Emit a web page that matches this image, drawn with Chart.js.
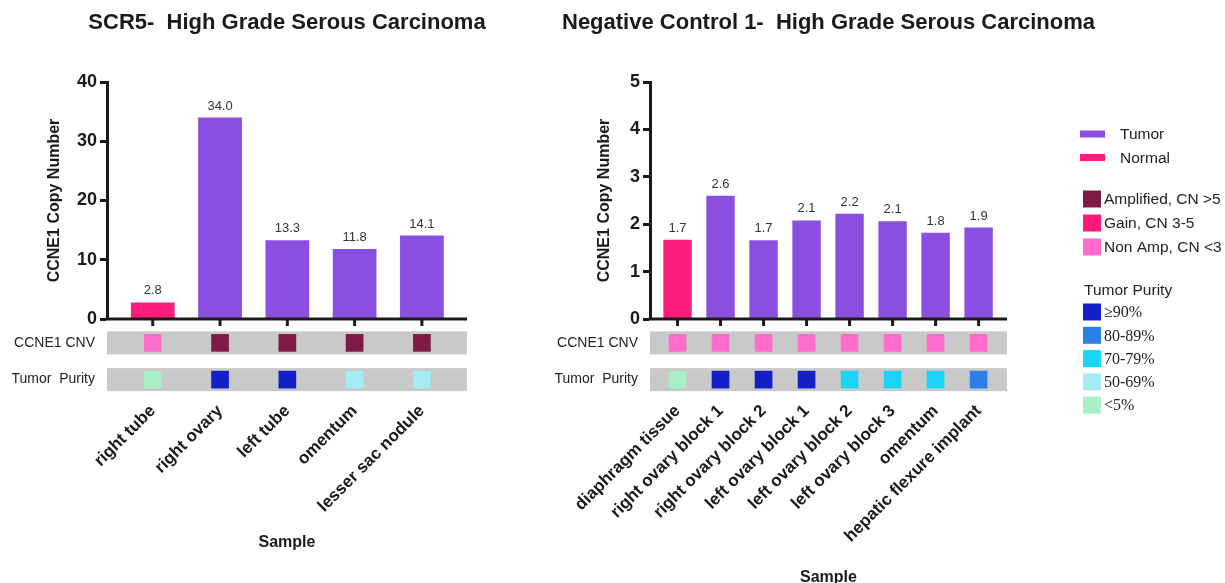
<!DOCTYPE html>
<html>
<head>
<meta charset="utf-8">
<script src="https://cdn.jsdelivr.net/npm/chart.js@4.4.1/dist/chart.umd.min.js"></script>
<style>
  body { margin: 0; background: #fff; width: 1225px; height: 583px; overflow: hidden; position: relative; }
  .panel { position: absolute; top: 0; }
  #leftBox { left: 0; width: 540px; height: 583px; }
  #rightBox { left: 540px; width: 685px; height: 587px; }
</style>
</head>
<body>
<div class="panel" id="leftBox"><canvas id="leftChart"></canvas></div>
<div class="panel" id="rightBox"><canvas id="rightChart"></canvas></div>
<script>
'use strict';

// SCR5 panel
const scrSamples = ['right tube', 'right ovary', 'left tube', 'omentum', 'lesser sac nodule'];
const scrCopyNumber = [2.8, 34.0, 13.3, 11.8, 14.1];
const scrTissue = ['Normal', 'Tumor', 'Tumor', 'Tumor', 'Tumor'];
const scrCnv = ['Non Amp', 'Amplified', 'Amplified', 'Amplified', 'Amplified'];
const scrPurity = ['<5%', '≥90%', '≥90%', '50-69%', '50-69%'];

// Negative control panel
const negSamples = ['diaphragm tissue', 'right ovary block 1', 'right ovary block 2', 'left ovary block 1',
  'left ovary block 2', 'left ovary block 3', 'omentum', 'hepatic flexure implant'];
const negCopyNumber = [1.67, 2.6, 1.66, 2.08, 2.22, 2.06, 1.82, 1.93];
const negTissue = ['Normal', 'Tumor', 'Tumor', 'Tumor', 'Tumor', 'Tumor', 'Tumor', 'Tumor'];
const negCnv = ['Non Amp', 'Non Amp', 'Non Amp', 'Non Amp', 'Non Amp', 'Non Amp', 'Non Amp', 'Non Amp'];
const negPurity = ['<5%', '≥90%', '≥90%', '≥90%', '70-79%', '70-79%', '70-79%', '80-89%'];

const rowLabels = ['CCNE1 CNV', 'Tumor  Purity'];

const tissueLevels = ['Tumor', 'Normal'];
const tissueColors = ['#8a4fe0', '#ff1c7a'];
const cnvLevels = ['Amplified', 'Gain', 'Non Amp'];
const cnvText = ['Amplified, CN >5', 'Gain, CN 3-5', 'Non Amp, CN <3'];
const cnvColors = ['#7d1a45', '#ff1a79', '#ff6ccb'];
const purityLevels = ['≥90%', '80-89%', '70-79%', '50-69%', '<5%'];
const purityColors = ['#1320c8', '#2a7fe9', '#18d5f7', '#a4ecf1', '#a8efc6'];

const SANS = '"Liberation Sans", Arial, sans-serif';
const INK = '#1a1a1a';

// panel title, centred over the plot area (Chart.js title would squeeze it)
const panelTitle = {
  id: 'panelTitle',
  afterDraw(chart, args, opts) {
    const {ctx, chartArea} = chart;
    ctx.save();
    ctx.font = 'bold 22px ' + SANS;
    ctx.fillStyle = INK;
    ctx.textAlign = 'center';
    ctx.textBaseline = 'middle';
    ctx.fillText(opts.text, (chartArea.left + chartArea.right) / 2, 23);
    ctx.restore();
  }
};

// grey strips behind the CNV / purity squares
const rowBands = {
  id: 'rowBands',
  beforeDatasetsDraw(chart) {
    const {ctx, chartArea, scales} = chart;
    ctx.save();
    ctx.fillStyle = '#c9c9c9';
    rowLabels.forEach((r, i) => {
      const y = scales.yr.getPixelForValue(i);
      ctx.fillRect(chartArea.left, y - 11.5, chartArea.right - chartArea.left, 23);
    });
    ctx.restore();
  }
};

// x baseline at zero with tick marks, and the value above every bar
const baseAndValues = {
  id: 'baseAndValues',
  afterDatasetsDraw(chart) {
    const {ctx, chartArea, scales} = chart;
    const y0 = scales.y.getPixelForValue(0);
    ctx.save();
    ctx.strokeStyle = INK;
    ctx.lineWidth = 3;
    ctx.beginPath();
    ctx.moveTo(chartArea.left - 1.5, y0);
    ctx.lineTo(chartArea.right, y0);
    const meta = chart.getDatasetMeta(0);
    meta.data.forEach((bar) => {
      ctx.moveTo(bar.x, y0);
      ctx.lineTo(bar.x, y0 + 7);
    });
    ctx.stroke();

    ctx.font = '13px ' + SANS;
    ctx.fillStyle = '#333';
    ctx.textAlign = 'center';
    ctx.textBaseline = 'bottom';
    meta.data.forEach((bar, i) => {
      const v = chart.data.datasets[0].data[i].y;
      ctx.fillText(v.toFixed(1), bar.x, bar.y - 5);
    });
    ctx.restore();
  }
};

// legend on the right of the second panel
const sideLegend = {
  id: 'sideLegend',
  afterDraw(chart) {
    const {ctx, chartArea} = chart;
    const x0 = chartArea.right + 73;
    ctx.save();
    ctx.textAlign = 'left';
    ctx.textBaseline = 'middle';

    tissueLevels.forEach((name, i) => {
      const y = 134 + i * 23.5;
      ctx.fillStyle = tissueColors[i];
      ctx.fillRect(x0, y - 3.5, 25, 7);
      ctx.fillStyle = '#222';
      ctx.font = '15.5px ' + SANS;
      ctx.fillText(name, x0 + 40, y + 1);
    });

    cnvText.forEach((name, i) => {
      const y = 199 + i * 24;
      ctx.fillStyle = cnvColors[i];
      ctx.fillRect(x0 + 3, y - 8.5, 18, 17);
      ctx.fillStyle = '#222';
      ctx.font = '15.5px ' + SANS;
      ctx.fillText(name, x0 + 24, y + 1);
    });

    ctx.fillStyle = '#222';
    ctx.font = '15.5px ' + SANS;
    ctx.fillText('Tumor Purity', x0 + 4, 291);

    purityLevels.forEach((name, i) => {
      const y = 312 + i * 23.3;
      ctx.fillStyle = purityColors[i];
      ctx.fillRect(x0 + 3, y - 8.5, 18, 17);
      ctx.fillStyle = '#222';
      ctx.font = '16px "Liberation Serif", "Times New Roman", serif';
      ctx.fillText(name, x0 + 24, y + 1);
    });
    ctx.restore();
  }
};

function buildPanel(canvasId, p) {
  const barData = p.values.map((v, i) => ({x: i, y: v}));
  const cnvRow = p.samples.map((s, i) => ({x: i, y: 0}));
  const purityRow = p.samples.map((s, i) => ({x: i, y: 1}));

  return new Chart(document.getElementById(canvasId), {
    type: 'bar',
    data: {
      datasets: [
        {
          type: 'bar',
          data: barData,
          xAxisID: 'x',
          yAxisID: 'y',
          backgroundColor: p.tissue.map((t) => tissueColors[tissueLevels.indexOf(t)]),
          categoryPercentage: 1,
          barPercentage: p.barPct
        },
        {
          type: 'scatter',
          data: cnvRow,
          xAxisID: 'x',
          yAxisID: 'yr',
          pointStyle: 'rect',
          radius: 12.5,
          borderWidth: 0,
          backgroundColor: p.cnv.map((c) => cnvColors[cnvLevels.indexOf(c)])
        },
        {
          type: 'scatter',
          data: purityRow,
          xAxisID: 'x',
          yAxisID: 'yr',
          pointStyle: 'rect',
          radius: 12.5,
          borderWidth: 0,
          backgroundColor: p.purity.map((c) => purityColors[purityLevels.indexOf(c)])
        }
      ]
    },
    options: {
      responsive: true,
      maintainAspectRatio: false,
      animation: false,
      events: [],
      layout: {padding: {left: p.padLeft, right: p.padRight, top: 82, bottom: 0}},
      plugins: {
        legend: {display: false},
        tooltip: {enabled: false},
        title: {display: false},
        panelTitle: {text: p.title}
      },
      scales: {
        x: {
          type: 'linear',
          position: 'bottom',
          offset: false,
          min: p.xMin,
          max: p.xMax,
          grid: {display: false, drawTicks: false, offset: false},
          border: {display: false},
          ticks: {
            stepSize: 1,
            includeBounds: false,
            autoSkip: false,
            maxRotation: 45,
            minRotation: 45,
            padding: 3,
            color: INK,
            font: {family: SANS, size: 17, weight: 'bold'},
            callback: (v) => p.samples[v] ?? ''
          },
          title: {
            display: true,
            text: 'Sample',
            color: INK,
            font: {family: SANS, size: 16, weight: 'bold'},
            padding: {top: 0, bottom: p.xTitlePad}
          },
          afterFit: (scale) => { scale.height = p.xHeight; }
        },
        yr: {
          type: 'linear',
          position: 'left',
          stack: 'col',
          stackWeight: 79,
          weight: 0,
          reverse: true,
          min: -0.65,
          max: 1.5,
          grid: {display: false, drawTicks: false},
          border: {display: false},
          ticks: {
            stepSize: 1,
            includeBounds: false,
            padding: 12,
            color: '#222',
            font: {family: SANS, size: 14},
            callback: (v) => rowLabels[v] ?? ''
          },
          afterFit: (scale) => { scale.width = p.axisWidth; }
        },
        y: {
          type: 'linear',
          position: 'left',
          stack: 'col',
          stackWeight: 237,
          weight: 1,
          min: 0,
          max: p.yMax,
          grid: {drawOnChartArea: false, drawTicks: true, tickLength: 7, tickWidth: 3, tickColor: INK},
          border: {display: true, width: 3, color: INK},
          ticks: {
            stepSize: p.yStep,
            padding: 3,
            color: INK,
            font: {family: SANS, size: 18, weight: 'bold'}
          },
          title: {
            display: true,
            text: 'CCNE1 Copy Number',
            color: INK,
            font: {family: SANS, size: 16, weight: 'bold'},
            padding: {top: p.yTitlePad, bottom: 0}
          },
          afterFit: (scale) => { scale.width = p.axisWidth; }
        }
      }
    },
    plugins: [panelTitle, rowBands, baseAndValues].concat(p.extraPlugins || [])
  });
}

buildPanel('leftChart', {
  title: 'SCR5-  High Grade Serous Carcinoma',
  samples: scrSamples,
  values: scrCopyNumber,
  tissue: scrTissue,
  cnv: scrCnv,
  purity: scrPurity,
  yMax: 40,
  yStep: 10,
  xMin: -0.68,
  xMax: 4.67,
  barPct: 0.65,
  padLeft: 12,
  padRight: 73,
  axisWidth: 95,
  yTitlePad: 33.4,
  xHeight: 185,
  xTitlePad: 30.4
});

buildPanel('rightChart', {
  title: 'Negative Control 1-  High Grade Serous Carcinoma',
  samples: negSamples,
  values: negCopyNumber,
  tissue: negTissue,
  cnv: negCnv,
  purity: negPurity,
  yMax: 5,
  yStep: 1,
  xMin: -0.64,
  xMax: 7.66,
  barPct: 0.66,
  padLeft: 13,
  padRight: 218,
  axisWidth: 97,
  yTitlePad: 42.4,
  xHeight: 189,
  xTitlePad: 0,
  extraPlugins: [sideLegend]
});
</script>
</body>
</html>
